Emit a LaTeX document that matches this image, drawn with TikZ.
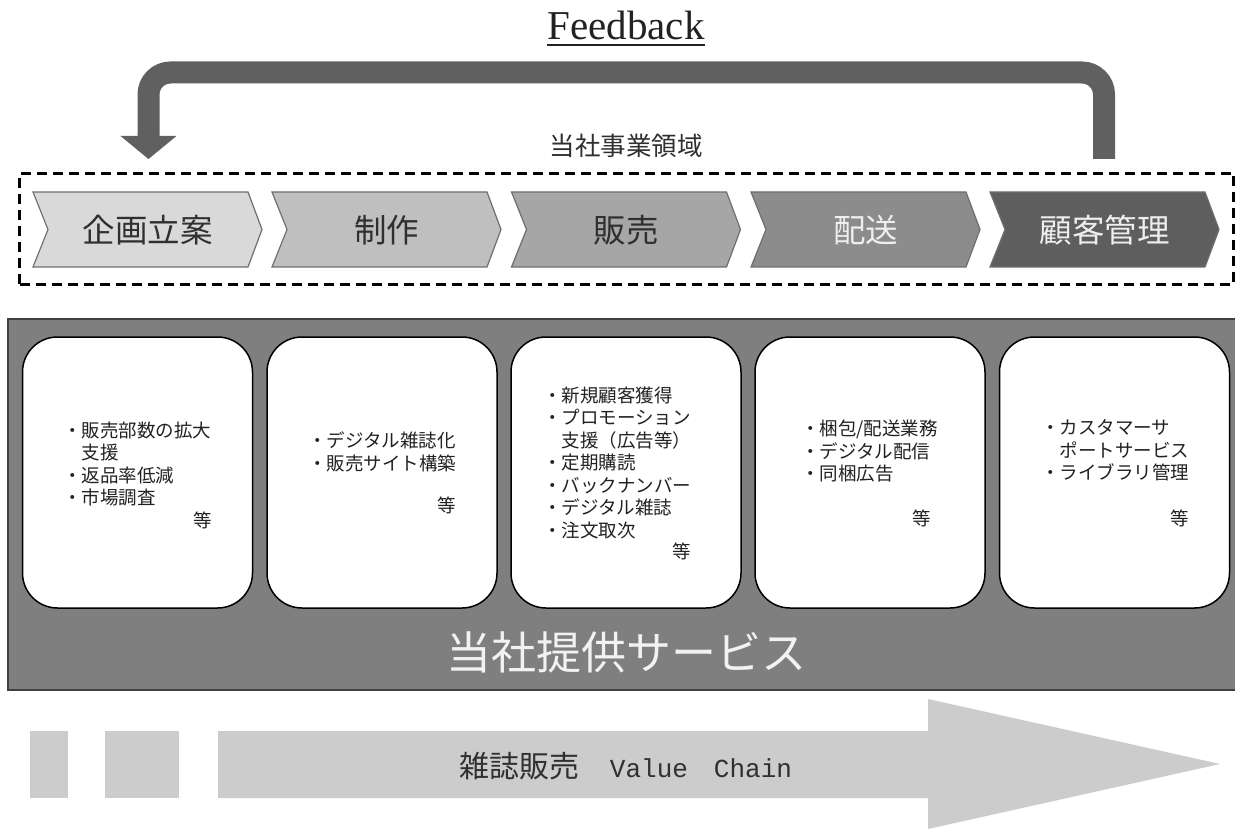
\documentclass[tikz,border=0pt]{standalone}
\usepackage{fontspec}
\setmainfont{Noto Sans CJK JP}
\newfontfamily\serifft{Liberation Serif}
\newfontfamily\monoft{Liberation Mono}
\usetikzlibrary{calc}
\definecolor{chA}{HTML}{D9D9D9}
\definecolor{chB}{HTML}{BFBFBF}
\definecolor{chC}{HTML}{A6A6A6}
\definecolor{chD}{HTML}{8C8C8C}
\definecolor{chE}{HTML}{5E5E5E}
\definecolor{chedge}{HTML}{6E6E6E}
\definecolor{tdark}{HTML}{303030}
\definecolor{tlight}{HTML}{EEEEEE}
\definecolor{bandfill}{HTML}{7F7F7F}
\definecolor{bandedge}{HTML}{404040}
\definecolor{fbgray}{HTML}{606060}
\definecolor{vcgray}{HTML}{CCCCCC}
\definecolor{cardtext}{HTML}{222222}
\begin{document}
\begin{tikzpicture}[x=1pt,y=-1pt,
  chev/.style={draw=chedge, line width=1.2pt, line join=miter},
  chevtxt/.style={font=\fontsize{32.5}{32.5}\selectfont, inner sep=0},
  card/.style={draw=black, line width=1.5pt, fill=white, rounded corners=35pt,
    minimum width=230pt, minimum height=271pt, inner sep=0},
  cardtxt/.style={anchor=north west, align=left, inner sep=0,
    font=\fontsize{18.5}{22.5}\selectfont, text=cardtext},
  etcmark/.style={inner sep=0, font=\fontsize{18.5}{18.5}\selectfont, text=cardtext},
  fbarrow/.style={draw=fbgray, line width=22pt, rounded corners=22pt},
  vcshape/.style={fill=vcgray}
]
\useasboundingbox (0,0) rectangle (1235,829);
\fill[white] (0,0) rectangle (1235,829);

% title
\node[inner sep=0, anchor=base, font=\serifft\fontsize{41}{41}\selectfont, text=cardtext] (title) at (626,40) {Feedback};
\draw[line width=2.5pt, cardtext] ([yshift=-5pt]title.base west) -- ([yshift=-5pt]title.base east);

% feedback arrow
\coordinate (fbs) at (1104,159);
\coordinate (fbe) at (148.5,136);
\draw[fbarrow] (fbs) -- (1104,72.5) -- (148.5,72.5) -- (fbe);
\fill[fbgray] ([xshift=-28pt]fbe) -- ([xshift=28pt]fbe) -- ([yshift=-23pt]fbe) -- cycle;

% business domain
\node[font=\fontsize{25.5}{25.5}\selectfont, text=tdark, inner sep=0] (domlabel) at (626,146) {当社事業領域};
\node[draw=black, line width=3pt, dash pattern=on 10pt off 6pt, minimum width=1214pt, minimum height=111pt,
  anchor=north west, inner sep=0] (domain) at (18,172) {};

\foreach \i/\x/\fc/\tc/\t in {1/33/chA/tdark/企画立案, 2/272/chB/tdark/制作, 3/511.5/chC/tdark/販売, 4/751/chD/tlight/配送, 5/990/chE/tlight/顧客管理}{
  \draw[chev, fill=\fc] (\x,192) -- ++(215,0) -- ++(14,37.5) -- ++(-14,37.5) -- ++(-215,0) -- ++(15,-37.5) -- cycle;
  \node[chevtxt, text=\tc] (ch\i) at (\x+114.5,230) {\t};
}

% service band
\node[draw=bandedge, fill=bandfill, line width=2pt, minimum width=1240pt, minimum height=371pt,
  anchor=north west, inner sep=0] (band) at (7,318) {};
\node[inner sep=0, font=\fontsize{45}{45}\selectfont, text=white!95!black] (svc) at (626,652) {当社提供サービス};

% cards
\node[card] (card1) at (137.5,472.5) {};
\node[card] (card2) at (382,472.5) {};
\node[card] (card3) at (626,472.5) {};
\node[card] (card4) at (870,472.5) {};
\node[card] (card5) at (1114.5,472.5) {};

\node[cardtxt] (t1) at (63,421.7) {・販売部数の拡大\\　支援\\・返品率低減\\・市場調査};
\node[etcmark] (e1) at (203,520) {等};
\node[cardtxt] (t2) at (308,431.7) {・デジタル雑誌化\\・販売サイト構築};
\node[etcmark] (e2) at (447,505) {等};
\node[cardtxt] (t3) at (543,386.7) {・新規顧客獲得\\・プロモーション\\　支援（広告等）\\・定期購読\\・バックナンバー\\・デジタル雑誌\\・注文取次};
\node[etcmark] (e3) at (682,551) {等};
\node[cardtxt] (t4) at (801,419.7) {・梱包/配送業務\\・デジタル配信\\・同梱広告};
\node[etcmark] (e4) at (922,518) {等};
\node[cardtxt] (t5) at (1041,419.7) {・カスタマーサ\\　ポートサービス\\・ライブラリ管理};
\node[etcmark] (e5) at (1180,518) {等};

% value chain arrow
\fill[vcshape] (30,731) rectangle (68,798);
\fill[vcshape] (105,731) rectangle (179,798);
\fill[vcshape] (218,731) -- (928,731) -- (928,699) -- (1220,764) -- (928,829) -- (928,798) -- (218,798) -- cycle;
\node[inner sep=0, text=tdark, font=\fontsize{30}{30}\selectfont] (vc) at (626,766)
  {雑誌販売\hspace{30pt}{\monoft\fontsize{26}{26}\selectfont Value\hspace{26pt}Chain}};
\end{tikzpicture}
\end{document}
